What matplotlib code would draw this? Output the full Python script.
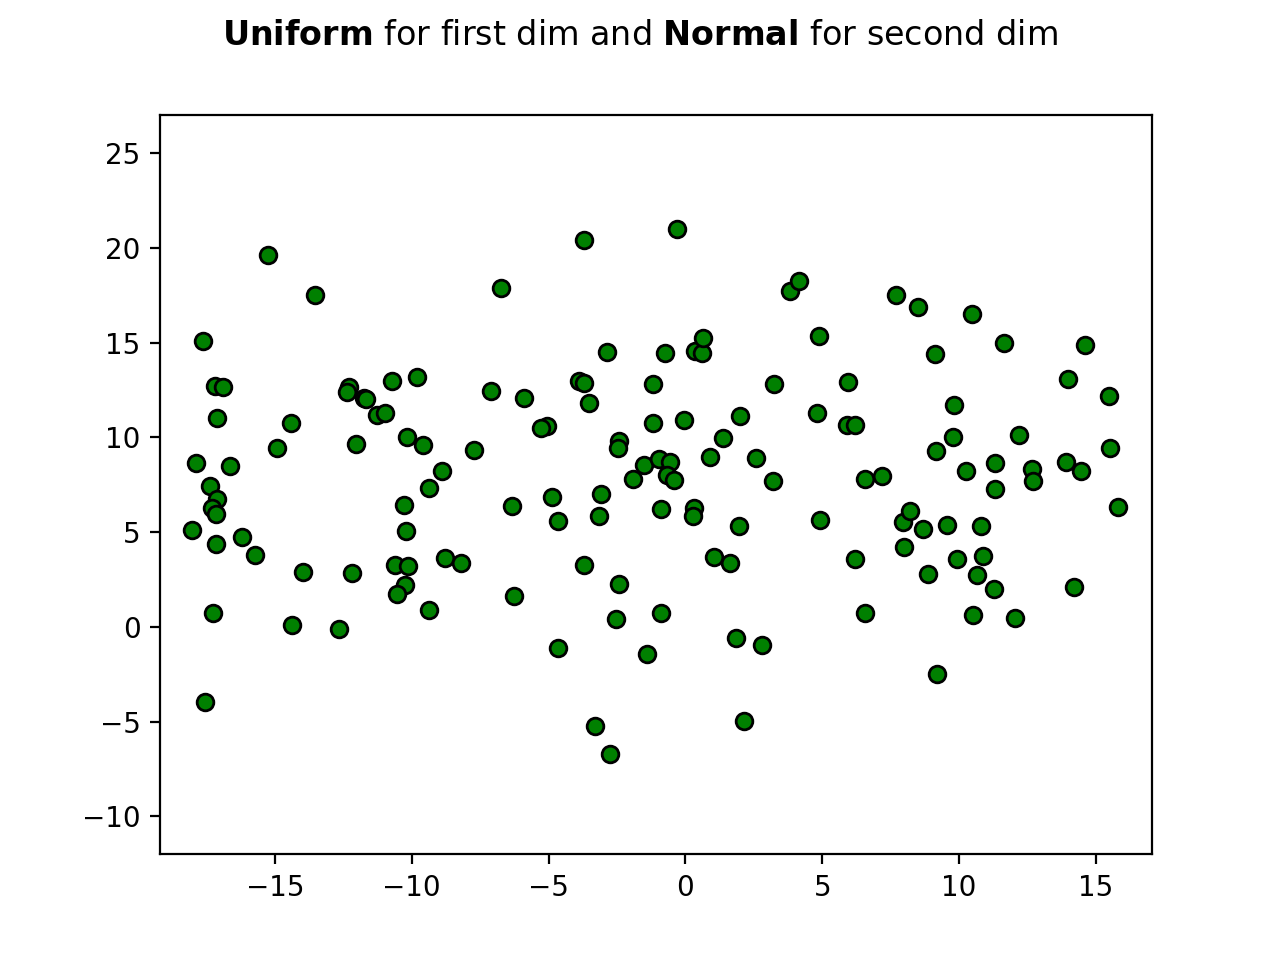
import numpy as np
import matplotlib
matplotlib.use('Agg')
import matplotlib.pyplot as plt

### first dim (uniform) and second dim (normal)
x_vals = [-15.26, -13.54, -17.63, -17.2, -16.9, -17.1, -16.64, -17.9, -17.37, -17.1,
          -17.3, -17.15, -18.03, -17.15, -16.2, -15.73, -17.26, -17.55, -14.93, -14.42,
          -13.98, -14.38, -12.66, -12.3, -12.37, -11.75, -11.68, -11.28, -10.98, -12.04,
          -12.19, -10.73, -9.82, -10.18, -9.6, -10.29, -10.22, -10.62, -10.15, -10.26,
          -10.55, -9.38, -8.9, -8.8, -8.21, -9.38, -7.74, -7.12, -6.75, -5.91,
          -6.35, -6.28, -5.07, -5.26, -4.89, -4.67, -4.67, -3.9, -3.72, -3.54,
          -3.69, -2.88, -3.69, -3.1, -3.14, -2.41, -2.45, -2.41, -2.55, -3.32,
          -2.74, -1.93, -1.5, -1.17, -1.17, -0.95, -0.73, -0.55, -0.69, -0.4,
          -0.88, -0.88, -1.39, -0.29, -0.07, 0.36, 0.62, 0.66, 0.33, 0.29,
          0.91, 1.39, 1.06, 1.64, 2.0, 1.97, 1.86, 2.15, 2.59, 3.21,
          3.25, 2.81, 3.83, 4.16, 4.89, 4.82, 4.93, 5.95, 5.91, 6.2,
          6.2, 6.57, 7.19, 6.57, 7.7, 8.5, 9.12, 9.82, 10.47, 11.64,
          9.78, 9.16, 10.26, 7.96, 8.21, 8.69, 9.56, 8.0, 8.87, 9.93,
          9.2, 10.8, 10.88, 10.66, 11.28, 10.51, 11.31, 11.31, 12.19, 12.66,
          12.7, 12.04, 13.98, 14.6, 13.9, 14.45, 14.2, 15.47, 15.51, 15.8]
y_vals = [19.6, 17.5, 15.1, 12.7, 12.65, 11.05, 8.48, 8.64, 7.43, 6.74,
          6.3, 5.95, 5.11, 4.37, 4.74, 3.79, 0.74, -3.95, 9.43, 10.75,
          2.9, 0.1, -0.1, 12.64, 12.38, 12.1, 12.05, 11.2, 11.27, 9.64,
          2.85, 13.0, 13.2, 10.0, 9.59, 6.43, 5.06, 3.27, 3.21, 2.21,
          1.74, 7.32, 8.22, 3.64, 3.37, 0.9, 9.33, 12.43, 17.9, 12.07,
          6.37, 1.63, 10.59, 10.48, 6.85, 5.58, -1.1, 12.96, 12.86, 11.8,
          20.44, 14.49, 3.27, 7.0, 5.85, 9.8, 9.43, 2.27, 0.42, -5.22,
          -6.69, 7.8, 8.54, 12.8, 10.75, 8.85, 14.44, 8.69, 8.0, 7.74,
          6.22, 0.74, -1.42, 20.97, 10.9, 14.54, 14.44, 15.23, 6.27, 5.85,
          8.96, 9.96, 3.69, 3.37, 11.12, 5.32, -0.58, -4.95, 8.9, 7.69,
          12.8, -0.95, 17.7, 18.23, 15.33, 11.27, 5.64, 12.9, 10.64, 10.64,
          3.58, 7.8, 7.96, 0.74, 17.49, 16.86, 14.38, 11.7, 16.5, 15.0,
          10.0, 9.27, 8.22, 5.53, 6.11, 5.16, 5.37, 4.21, 2.79, 3.58,
          -2.48, 5.32, 3.74, 2.74, 2.0, 0.63, 8.64, 7.27, 10.12, 8.32,
          7.69, 0.47, 13.07, 14.86, 8.69, 8.22, 2.1, 12.17, 9.43, 6.32]

x = np.array(x_vals)
y = np.array(y_vals)

fig, ax = plt.subplots(figsize=(6.4, 4.8), dpi=200)
ax.scatter(x, y, c='green', edgecolors='k')
ax.set_xlim(-19.2, 17.05)
ax.set_ylim(-12, 27)
fig.suptitle(r"$\bf{Uniform}$ for first dim and $\bf{Normal}$ for second dim")

plt.savefig('out.png')
